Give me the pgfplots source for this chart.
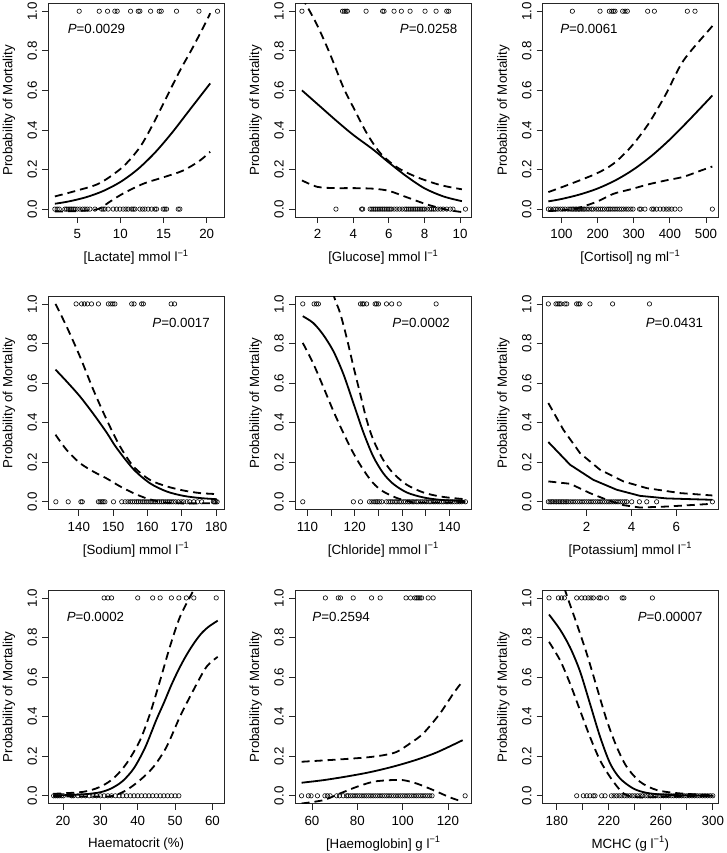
\documentclass[border=0pt]{standalone}
\usepackage{fontspec}
\setmainfont{Liberation Sans}
\usepackage{pgfplots}
\pgfplotsset{compat=1.18}
\pgfplotsset{
  panel/.style={
    scale only axis, height=213.7bp, anchor=north west,
    font=\fontsize{13.3bp}{15bp}\selectfont,
    ymin=-0.04, ymax=1.04,
    ytick={0,0.2,0.4,0.6,0.8,1}, yticklabels={0.0,0.2,0.4,0.6,0.8,1.0},
    tick align=outside, tick pos=left,
    major tick length=6bp,
    axis line style={line width=0.8bp, black!85},
    every tick/.style={line width=0.8bp, black!85},
    /pgf/number format/assume math mode=true,
    xticklabel style={anchor=north, inner sep=0pt, yshift=-6.5bp},
    yticklabel style={rotate=90, anchor=south, inner sep=0pt},
    yticklabel shift=5bp,
    ylabel={Probability of Mortality},
    ylabel style={at={([xshift=-39.3bp]axis description cs:0,0.5)}, anchor=center},
    xlabel style={at={(axis description cs:0.5,-0.1872)}, anchor=center},
  },
  fit/.style={black, line width=1.8bp, smooth, tension=0.5},
  ci/.style={black, line width=1.8bp, dash pattern=on 8bp off 5bp, smooth, tension=0.5},
  pts/.style={only marks, mark=o, mark size=2.2bp, mark options={line width=0.6bp, black, solid}},
}
\begin{document}
\begin{tikzpicture}[font=\fontsize{13.3bp}{15bp}\selectfont]
\useasboundingbox (0,0) rectangle (727bp,-853bp);
% ---------------- Lactate
\begin{axis}[panel, at={(48.3bp,-3.3bp)}, width=175.7bp, xmin=1.65, xmax=22.0, xtick={5,10,15,20},
  xlabel={[Lactate] mmol l\textsuperscript{−1}}]
\addplot[pts] coordinates {(5.23,1)(7.55,1)(8.51,1)(9.36,1)(9.63,1)(11.18,1)(12.07,1)(12.26,1)(13.5,1)(14.5,1)(14.73,1)(16.5,1)(19.1,1)(21.25,1)};
\addplot[pts] coordinates {(2.41,0)(2.68,0)(2.92,0)(3.57,0)(3.76,0)(3.96,0)(4.15,0)(4.34,0)(4.54,0)(4.73,0)(5.0,0)(5.31,0)(5.62,0)(5.89,0)(6.16,0)(6.47,0)(7.05,0)(7.82,0)(8.01,0)(8.2,0)(8.59,0)(9.17,0)(9.56,0)(9.94,0)(10.33,0)(10.64,0)(10.91,0)(11.29,0)(11.49,0)(11.68,0)(12.26,0)(12.57,0)(12.84,0)(13.22,0)(13.61,0)(13.99,0)(14.19,0)(14.96,0)(15.15,0)(15.35,0)(16.7,0)(16.89,0)};
\addplot[fit] coordinates {(2.41,0.027)(4,0.0385)(6,0.0596)(8,0.0912)(10,0.137)(12,0.201)(14,0.285)(16,0.387)(18,0.500)(20.4,0.635)};
\addplot[ci] coordinates {(2.41,0.064)(5,0.094)(7.6,0.131)(10.25,0.212)(12.26,0.313)(13.8,0.431)(15.35,0.566)(16.9,0.70)(18.4,0.818)(20,0.953)(20.4,0.99)};
\addplot[ci] coordinates {(2.41,-0.012)(5,-0.01)(7.4,0.0)(8.7,0.035)(10.25,0.077)(12.65,0.128)(15.08,0.162)(17.28,0.195)(19.2,0.245)(20.4,0.29)};
\node[anchor=west] at (rel axis cs:0.091,0.878) {\textit{P}=0.0029};
\end{axis}
% ---------------- Glucose
\begin{axis}[panel, at={(295bp,-3.3bp)}, width=176.7bp, xmin=0.73, xmax=10.65, xtick={2,4,6,8,10},
  xlabel={[Glucose] mmol l\textsuperscript{−1}}]
\addplot[pts] coordinates {(1.12,1)(3.40,1)(3.5,1)(3.59,1)(3.67,1)(4.72,1)(5.65,1)(5.73,1)(6.29,1)(6.7,1)(7.19,1)(8.03,1)(8.65,1)(9.25,1)(9.36,1)};
\addplot[pts] coordinates {(3.03,0)(4.47,0)(4.53,0)(4.95,0)(5.05,0)(5.15,0)(5.25,0)(5.35,0)(5.45,0)(5.55,0)(5.65,0)(5.75,0)(5.85,0)(5.95,0)(6.05,0)(6.15,0)(6.3,0)(6.45,0)(6.6,0)(6.75,0)(6.9,0)(7.0,0)(7.1,0)(7.2,0)(7.3,0)(7.4,0)(7.5,0)(7.6,0)(7.7,0)(7.8,0)(7.9,0)(8.0,0)(8.15,0)(8.3,0)(8.4,0)(8.5,0)(8.6,0)(8.75,0)(8.9,0)(9.05,0)(9.25,0)(9.45,0)(9.6,0)(10.3,0)};
\addplot[fit] coordinates {(1.12,0.60)(2,0.53)(3.07,0.445)(4,0.375)(5.13,0.300)(6,0.235)(7,0.165)(8,0.105)(9.06,0.064)(10.1,0.04)};
\addplot[ci] coordinates {(1.12,1.07)(1.94,0.936)(2.69,0.785)(3.44,0.616)(4,0.515)(4.75,0.385)(5.5,0.285)(6.44,0.212)(7.56,0.162)(8.87,0.122)(10.1,0.10)};
\addplot[ci] coordinates {(1.12,0.145)(2,0.112)(3.07,0.106)(4,0.106)(5.13,0.103)(6,0.092)(7,0.06)(8.12,0.024)(9.25,-0.003)(10.1,-0.015)};
\node[anchor=east] at (rel axis cs:0.938,0.878) {\textit{P}=0.0258};
\end{axis}
% ---------------- Cortisol
\begin{axis}[panel, at={(542.7bp,-3.3bp)}, width=175.3bp, xmin=47.96, xmax=533.2, xtick={100,200,300,400,500},
  xlabel={[Cortisol] ng ml\textsuperscript{−1}}]
\addplot[pts] coordinates {(130.0,1)(206.6,1)(232.4,1)(238.9,1)(243.5,1)(248.1,1)(269.3,1)(275.8,1)(282.2,1)(338.5,1)(357.0,1)(448.3,1)(469.5,1)};
\addplot[pts] coordinates {(63.6,0)(70,0)(78,0)(84,0)(90,0)(97,0)(103,0)(110,0)(118,0)(124,0)(129,0)(133,0)(138,0)(142,0)(147,0)(150,0)(155,0)(160,0)(164,0)(170,0)(176,0)(183,0)(188,0)(196,0)(202,0)(208,0)(213,0)(219,0)(226,0)(231,0)(236,0)(242,0)(248,0)(254,0)(260,0)(266,0)(272,0)(279,0)(285,0)(292,0)(298,0)(316,0)(320,0)(331,0)(350,0)(355,0)(363,0)(373,0)(382,0)(390,0)(397,0)(405,0)(414,0)(428,0)(517.5,0)};
\addplot[fit] coordinates {(63.6,0.039)(100,0.051)(150,0.0735)(200,0.104)(250,0.146)(300,0.201)(350,0.270)(400,0.352)(450,0.444)(500,0.540)(517.5,0.574)};
\addplot[ci] coordinates {(63.6,0.086)(114.4,0.12)(194.6,0.178)(243.5,0.229)(291.5,0.313)(340.4,0.43)(389.3,0.582)(437.3,0.75)(511,0.911)(517.5,0.925)};
\addplot[ci] coordinates {(63.6,-0.01)(132.8,0.0)(194.6,0.035)(243.5,0.077)(291.5,0.10)(340.4,0.125)(389.3,0.145)(437.3,0.163)(486.2,0.195)(517.5,0.215)};
\node[anchor=west] at (rel axis cs:0.08,0.878) {\textit{P}=0.0061};
\end{axis}
% ---------------- Sodium
\begin{axis}[panel, at={(48.3bp,-296bp)}, width=175.7bp, xmin=131.1, xmax=182.3, xtick={140,150,160,170,180},
  xlabel={[Sodium] mmol l\textsuperscript{−1}}]
\addplot[pts] coordinates {(139.2,1)(140.8,1)(141.6,1)(142.5,1)(143.7,1)(145.7,1)(148.6,1)(149.3,1)(149.9,1)(150.5,1)(155.4,1)(156.1,1)(158.3,1)(158.8,1)(166.9,1)(167.9,1)};
\addplot[pts] coordinates {(133.3,0)(136.9,0)(140.6,0)(141.0,0)(145.7,0)(146.2,0)(146.7,0)(147.1,0)(147.6,0)(150.1,0)(152.5,0)(153.5,0)(154.3,0)(155,0)(155.6,0)(156.2,0)(156.8,0)(157.3,0)(157.9,0)(158.5,0)(159,0)(159.6,0)(160.2,0)(160.8,0)(161.3,0)(161.9,0)(162.4,0)(163,0)(163.5,0)(164.1,0)(164.6,0)(165.2,0)(165.8,0)(166.3,0)(166.9,0)(167.5,0)(168.2,0)(169,0)(169.8,0)(170.5,0)(171.5,0)(172.3,0)(173.5,0)(174.6,0)(175.8,0)(179.2,0)(179.5,0)(179.9,0)(180.3,0)};
\addplot[fit] coordinates {(133.2,0.668)(136.4,0.609)(140.3,0.533)(144.2,0.445)(148.1,0.350)(151.0,0.272)(155.9,0.165)(160.7,0.094)(165.6,0.052)(170.5,0.030)(175.3,0.019)(180.2,0.013)};
\addplot[ci] coordinates {(133.2,1.0)(136.4,0.887)(140.3,0.735)(144.2,0.567)(148.1,0.415)(152.0,0.28)(155.9,0.179)(160.7,0.111)(165.6,0.078)(170.5,0.057)(175.3,0.044)(180.2,0.039)};
\addplot[ci] coordinates {(133.2,0.339)(136.4,0.263)(140.3,0.196)(144.2,0.153)(148.1,0.118)(152.0,0.078)(155.9,0.044)(159.8,0.017)(164.6,-0.003)(170.5,-0.008)(180.2,-0.007)};
\node[anchor=east] at (rel axis cs:0.939,0.872) {\textit{P}=0.0017};
\end{axis}
% ---------------- Chloride
\begin{axis}[panel, at={(295bp,-296bp)}, width=176.7bp, xmin=107.36, xmax=144.72, xtick={110,115,120,125,130,135,140},
  xticklabels={110,,120,,130,,140},
  xlabel={[Chloride] mmol l\textsuperscript{−1}}]
\addplot[pts] coordinates {(109.0,1)(111.4,1)(111.9,1)(112.3,1)(121.2,1)(121.6,1)(121.9,1)(122.5,1)(124.3,1)(124.6,1)(125.0,1)(126.7,1)(127.8,1)(129.4,1)(137.2,1)};
\addplot[pts] coordinates {(109.0,0)(119.7,0)(121.2,0)(123.1,0)(123.6,0)(124.1,0)(124.5,0)(124.8,0)(125.2,0)(125.7,0)(126.7,0)(127.2,0)(127.6,0)(128.0,0)(128.5,0)(128.9,0)(129.4,0)(129.8,0)(130.3,0)(130.7,0)(131.2,0)(131.6,0)(132.1,0)(132.5,0)(133.0,0)(133.4,0)(133.9,0)(134.3,0)(134.8,0)(135.2,0)(135.7,0)(136.1,0)(136.6,0)(137.0,0)(137.5,0)(137.9,0)(138.4,0)(138.8,0)(139.3,0)(139.7,0)(140.2,0)(140.6,0)(141.1,0)(141.6,0)(142.1,0)(142.6,0)(143.4,0)};
\addplot[fit] coordinates {(109.0,0.938)(111.2,0.904)(113.3,0.845)(115.5,0.76)(117.6,0.645)(119.7,0.499)(121.8,0.352)(123.9,0.229)(126.0,0.145)(128.1,0.091)(131.0,0.047)(134.5,0.022)(138.0,0.010)(141.6,0.005)(143.4,0.003)};
\addplot[ci] coordinates {(113.5,1.25)(115.5,1.047)(116.9,0.954)(118.3,0.828)(119.7,0.685)(121.1,0.55)(122.5,0.415)(123.9,0.314)(126.0,0.212)(128.1,0.145)(131.0,0.086)(134.5,0.047)(138.0,0.027)(141.5,0.017)(143.4,0.013)};
\addplot[ci] coordinates {(109.0,0.803)(111.2,0.70)(113.3,0.583)(115.5,0.457)(117.6,0.347)(119.7,0.246)(121.8,0.162)(123.9,0.094)(126.0,0.052)(128.9,0.019)(131.0,0.005)(133.1,-0.003)(143.4,-0.003)};
\node[anchor=east] at (rel axis cs:0.896,0.872) {\textit{P}=0.0002};
\end{axis}
% ---------------- Potassium
\begin{axis}[panel, at={(542.7bp,-296bp)}, width=175.3bp, xmin=0.05, xmax=7.85, xtick={2,4,6},
  xlabel={[Potassium] mmol l\textsuperscript{−1}}]
\addplot[pts] coordinates {(0.30,1)(0.64,1)(0.72,1)(0.79,1)(0.86,1)(1.04,1)(1.12,1)(1.56,1)(1.64,1)(1.71,1)(2.15,1)(3.16,1)(4.8,1)};
\addplot[pts] coordinates {(0.30,0)(0.38,0)(0.45,0)(0.52,0)(0.6,0)(0.67,0)(0.75,0)(0.82,0)(0.9,0)(0.97,0)(1.05,0)(1.12,0)(1.2,0)(1.3,0)(1.4,0)(1.5,0)(1.6,0)(1.7,0)(1.8,0)(1.9,0)(2.0,0)(2.1,0)(2.2,0)(2.3,0)(2.4,0)(2.5,0)(2.6,0)(2.7,0)(2.8,0)(2.9,0)(3.0,0)(3.1,0)(3.2,0)(3.3,0)(3.4,0)(3.5,0)(3.6,0)(3.7,0)(3.79,0)(4.01,0)(4.35,0)(4.68,0)(5.12,0)(7.6,0)};
\addplot[fit, sharp plot] coordinates {(0.30,0.302)(1.27,0.187)(2.3,0.111)(3.34,0.061)(4.38,0.03)(5.57,0.017)(7.6,0.01)};
\addplot[ci, sharp plot] coordinates {(0.30,0.499)(0.97,0.364)(1.71,0.246)(2.6,0.162)(3.64,0.103)(4.68,0.069)(6.16,0.044)(7.6,0.032)};
\addplot[ci, sharp plot] coordinates {(0.30,0.103)(1.27,0.091)(2.15,0.044)(2.9,0.01)(3.64,-0.017)(4.38,-0.029)(5.57,-0.024)(7.6,-0.01)};
\node[anchor=east] at (rel axis cs:0.935,0.872) {\textit{P}=0.0431};
\end{axis}
% ---------------- Haematocrit
\begin{axis}[panel, at={(48.3bp,-590bp)}, width=175.7bp, xmin=16.07, xmax=63.08, xtick={20,30,40,50,60},
  xlabel={Haematocrit (\%)}]
\addplot[pts] coordinates {(31,1)(32,1)(33,1)(40,1)(44,1)(46,1)(49,1)(51,1)(53,1)(55,1)(61,1)};
\addplot[pts] coordinates {(17.5,0)(18,0)(18.5,0)(19,0)(19.6,0)(20.1,0)(22.3,0)(22.8,0)(24,0)(25,0)(26,0)(27,0)(28,0)(29,0)(30,0)(31,0)(32,0)(33,0)(34,0)(35,0)(36,0)(37,0)(38,0)(39,0)(40,0)(41,0)(42,0)(43,0)(44,0)(45,0)(46,0)(47,0)(48,0)(49,0)(50,0)(51,0)};
\addplot[fit] coordinates {(17.4,0.002)(22,0.004)(26,0.008)(30,0.018)(33,0.038)(36,0.075)(39,0.14)(42,0.245)(45,0.385)(47,0.47)(49,0.56)(51,0.64)(53,0.71)(55,0.77)(57,0.82)(59,0.855)(61.4,0.885)};
\addplot[ci] coordinates {(17.4,0.01)(25.4,0.02)(29.9,0.045)(33.5,0.088)(37,0.163)(40.6,0.28)(43.3,0.416)(46,0.584)(48.6,0.753)(51.3,0.904)(54.4,1.02)(55.5,1.06)};
\addplot[ci] coordinates {(17.4,-0.003)(30,-0.004)(33.5,0.0)(37,0.029)(40.6,0.079)(44.2,0.146)(47.7,0.247)(51.3,0.4)(54.9,0.534)(58.4,0.652)(61.4,0.702)};
\node[anchor=west] at (rel axis cs:0.085,0.875) {\textit{P}=0.0002};
\end{axis}
% ---------------- Haemoglobin
\begin{axis}[panel, at={(295bp,-590bp)}, width=176.7bp, xmin=52.5, xmax=130.5, xtick={60,80,100,120},
  xlabel={[Haemoglobin] g l\textsuperscript{−1}}]
\addplot[pts] coordinates {(65.9,1)(71.6,1)(72.6,1)(78.2,1)(86.3,1)(90.1,1)(101.5,1)(103.5,1)(105.4,1)(106.2,1)(106.9,1)(107.6,1)(108.4,1)(111.3,1)(113.5,1)};
\addplot[pts] coordinates {(55.4,0)(58.4,0)(59.6,0)(62.4,0)(65.7,0)(66.8,0)(68,0)(70.9,0)(72.1,0)(73.8,0)(75.3,0)(76,0)(77,0)(78,0)(79,0)(80,0)(81,0)(82,0)(83,0)(84,0)(85,0)(86,0)(87,0)(88,0)(89,0)(90,0)(91,0)(92,0)(93,0)(94,0)(95,0)(96,0)(97,0)(98,0)(99,0)(100,0)(101,0)(102,0)(103,0)(104,0)(105,0)(106,0)(107,0)(108,0)(109,0)(110,0)(111,0)(112,0)(113,0)(127.6,0)};
\addplot[fit] coordinates {(55.4,0.066)(65,0.079)(75,0.097)(85,0.118)(95,0.145)(105,0.178)(115,0.219)(126.5,0.281)};
\addplot[ci] coordinates {(55.4,0.172)(72.4,0.184)(84.1,0.194)(91.5,0.205)(97.4,0.222)(103.2,0.264)(109.1,0.315)(116.5,0.416)(122.4,0.517)(126.5,0.579)};
\addplot[ci] coordinates {(55.4,-0.039)(65,-0.022)(72.4,0.012)(79.7,0.045)(87.1,0.071)(94.4,0.079)(100.3,0.079)(106.2,0.062)(113.5,0.029)(120.9,-0.008)(126.5,-0.03)};
\node[anchor=west] at (rel axis cs:0.079,0.875) {\textit{P}=0.2594};
\end{axis}
% ---------------- MCHC
\begin{axis}[panel, at={(542.7bp,-590bp)}, width=175.3bp, xmin=169.15, xmax=304.0, xtick={180,200,220,240,260,280,300},
  xticklabels={180,,220,,260,,300},
  xlabel={MCHC (g l\textsuperscript{−1})}]
\addplot[pts] coordinates {(174.0,1)(181.2,1)(183.7,1)(185.8,1)(195.3,1)(199.1,1)(201.7,1)(204.2,1)(206.3,1)(208.1,1)(212.4,1)(213.7,1)(218.3,1)(230.3,1)(231.6,1)(253.5,1)};
\addplot[pts] coordinates {(195.3,0)(200.4,0)(203,0)(205.5,0)(208.1,0)(209.4,0)(214.5,0)(217.1,0)(222,0)(224,0)(226,0)(228,0)(230,0)(232,0)(234,0)(236,0)(238,0)(240,0)(242,0)(244,0)(246,0)(248,0)(250,0)(252,0)(254,0)(256,0)(258,0)(260,0)(262,0)(264,0)(266,0)(268,0)(270,0)(272,0)(274,0)(276,0)(278,0)(280,0)(282,0)(284,0)(286,0)(288,0)(290,0)(292,0)(294,0)(296,0)(298,0)(300,0)};
\addplot[fit] coordinates {(174,0.916)(182.5,0.840)(190.2,0.750)(197.8,0.630)(205.5,0.466)(213.2,0.300)(220.9,0.165)(228.6,0.088)(238.8,0.037)(249.1,0.015)(264.5,0.005)(300.4,0.0)};
\addplot[ci] coordinates {(174,1.3)(185.8,1.05)(195.3,0.87)(203,0.719)(210.7,0.55)(218.4,0.382)(226.1,0.247)(233.8,0.146)(244.0,0.071)(256.9,0.029)(274.8,0.012)(300.4,0.003)};
\addplot[ci] coordinates {(174,0.778)(182.5,0.685)(190.2,0.567)(197.8,0.433)(205.5,0.298)(213.2,0.18)(220.9,0.096)(228.6,0.029)(233.8,0.003)(244,-0.008)(264.5,-0.005)(300.4,-0.002)};
\node[anchor=east] at (rel axis cs:0.932,0.875) {\textit{P}=0.00007};
\end{axis}
\end{tikzpicture}
\end{document}
